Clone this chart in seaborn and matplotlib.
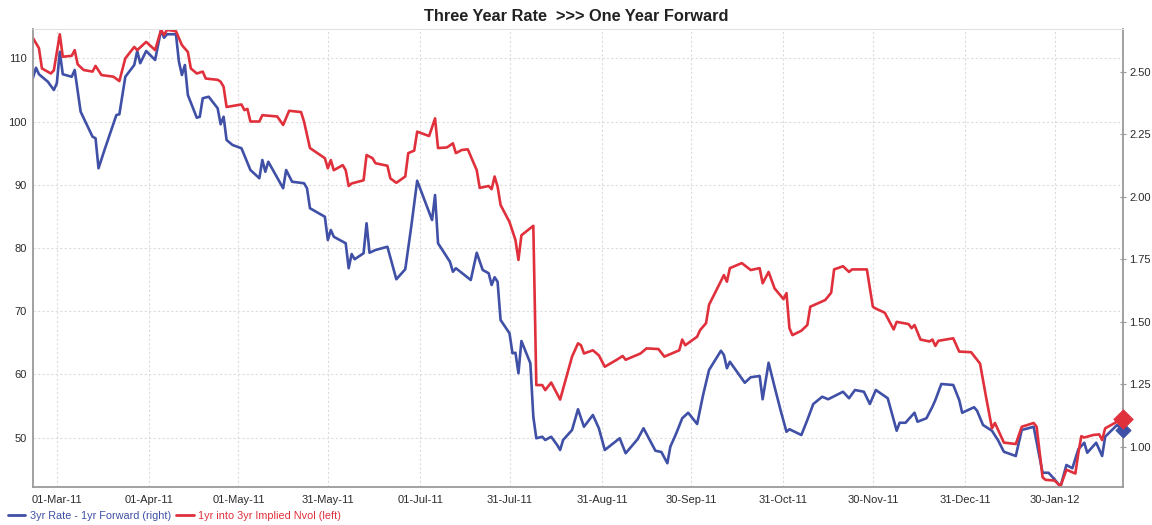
import matplotlib
matplotlib.use("Agg")
import matplotlib.pyplot as plt
import matplotlib.dates as mdates
from matplotlib.lines import Line2D
from matplotlib.ticker import FormatStrFormatter
import pandas as pd
import seaborn as sns

# ---------------- data ----------------
title = "Three Year Rate  >>> One Year Forward"
red_label = "1yr into 3yr Implied Nvol (left)"
blue_label = "3yr Rate - 1yr Forward (right)"

red_dates = [
    "2011-02-21", "2011-02-23", "2011-02-24", "2011-02-27", "2011-02-28", "2011-03-02", "2011-03-03",
    "2011-03-06", "2011-03-07", "2011-03-08", "2011-03-10", "2011-03-13", "2011-03-14", "2011-03-16",
    "2011-03-20", "2011-03-22", "2011-03-24", "2011-03-27", "2011-03-28", "2011-03-31", "2011-04-03",
    "2011-04-05", "2011-04-06", "2011-04-07", "2011-04-10", "2011-04-12", "2011-04-14", "2011-04-15",
    "2011-04-17", "2011-04-19", "2011-04-20", "2011-04-24", "2011-04-25", "2011-04-26", "2011-04-27",
    "2011-05-02", "2011-05-03", "2011-05-04", "2011-05-05", "2011-05-08", "2011-05-09", "2011-05-14",
    "2011-05-16", "2011-05-18", "2011-05-22", "2011-05-23", "2011-05-25", "2011-05-30", "2011-05-31",
    "2011-06-01", "2011-06-02", "2011-06-05", "2011-06-06", "2011-06-07", "2011-06-08", "2011-06-12",
    "2011-06-13", "2011-06-15", "2011-06-16", "2011-06-20", "2011-06-21", "2011-06-23", "2011-06-26",
    "2011-06-27", "2011-06-29", "2011-06-30", "2011-07-04", "2011-07-06", "2011-07-07", "2011-07-10",
    "2011-07-12", "2011-07-13", "2011-07-15", "2011-07-17", "2011-07-19", "2011-07-20", "2011-07-21",
    "2011-07-24", "2011-07-25", "2011-07-26", "2011-07-27", "2011-07-28", "2011-07-31", "2011-08-02",
    "2011-08-03", "2011-08-04", "2011-08-08", "2011-08-09", "2011-08-11", "2011-08-12", "2011-08-14",
    "2011-08-17", "2011-08-19", "2011-08-21", "2011-08-23", "2011-08-24", "2011-08-25", "2011-08-28",
    "2011-08-30", "2011-09-01", "2011-09-05", "2011-09-07", "2011-09-08", "2011-09-13", "2011-09-15",
    "2011-09-19", "2011-09-21", "2011-09-26", "2011-09-27", "2011-09-28", "2011-10-02", "2011-10-03",
    "2011-10-05", "2011-10-06", "2011-10-11", "2011-10-12", "2011-10-13", "2011-10-17", "2011-10-20",
    "2011-10-23", "2011-10-24", "2011-10-26", "2011-10-28", "2011-10-31", "2011-11-01", "2011-11-02",
    "2011-11-03", "2011-11-06", "2011-11-08", "2011-11-09", "2011-11-14", "2011-11-16", "2011-11-17",
    "2011-11-20", "2011-11-22", "2011-11-23", "2011-11-28", "2011-11-30", "2011-12-01", "2011-12-04",
    "2011-12-07", "2011-12-08", "2011-12-12", "2011-12-13", "2011-12-14", "2011-12-16", "2011-12-19",
    "2011-12-20", "2011-12-21", "2011-12-22", "2011-12-27", "2011-12-29", "2012-01-02", "2012-01-05",
    "2012-01-07", "2012-01-09", "2012-01-10", "2012-01-13", "2012-01-17", "2012-01-19", "2012-01-23",
    "2012-01-24", "2012-01-26", "2012-01-27", "2012-01-30", "2012-02-01", "2012-02-03", "2012-02-06",
    "2012-02-07", "2012-02-08", "2012-02-09", "2012-02-12", "2012-02-14", "2012-02-15", "2012-02-16",
    "2012-02-20", "2012-02-22",
]
red_values = [
    113.2, 111.6, 108.4, 107.6, 108.1, 113.8, 110.25, 110.4, 111.3, 109.05, 108.15, 107.9, 108.8, 107.35,
    107.1, 106.4, 110.0, 111.8, 111.3, 112.6, 111.3, 114.5, 113.7, 114.5, 114.3, 112.1, 111.0, 108.4,
    107.6, 107.9, 106.8, 106.6, 106.3, 105.5, 102.3, 102.7, 101.8, 102.0, 100.0, 100.0, 101.0, 100.8,
    99.45, 101.7, 101.5, 100.0, 95.8, 94.2, 92.6, 93.9, 92.3, 93.1, 92.3, 89.8, 90.2, 90.7,
    94.7, 94.2, 93.4, 93.0, 91.0, 90.3, 91.3, 95.0, 95.4, 98.4, 97.7, 100.5, 95.8, 95.9,
    96.55, 95.0, 95.5, 95.6, 93.4, 92.3, 89.5, 89.8, 89.3, 91.3, 89.7, 86.8, 84.1, 81.25,
    78.1, 82.0, 83.5, 58.3, 58.3, 57.5, 58.7, 56.0, 59.4, 62.8, 64.9, 64.6, 63.3, 63.8,
    63.0, 61.2, 62.3, 62.9, 62.3, 63.3, 64.1, 64.0, 62.8, 63.8, 65.5, 64.6, 65.95, 67.0,
    68.1, 71.0, 75.7, 74.65, 76.8, 77.6, 76.5, 76.8, 74.4, 76.2, 73.6, 71.9, 72.85, 67.3,
    66.2, 66.9, 67.8, 70.7, 71.75, 72.9, 76.6, 77.1, 76.2, 76.6, 76.6, 70.7, 70.4, 69.75,
    67.1, 68.3, 67.95, 67.3, 67.8, 65.5, 65.2, 65.5, 64.5, 65.3, 65.7, 63.6, 63.5, 61.7,
    56.45, 51.45, 52.3, 49.2, 48.97, 51.7, 52.3, 51.7, 43.7, 43.3, 43.2, 42.3, 44.9, 44.3,
    47.5, 50.2, 50.0, 50.4, 50.5, 49.6, 51.45, 52.5, 52.9,
]

blue_dates = [
    "2011-02-21", "2011-02-22", "2011-02-23", "2011-02-26", "2011-02-28", "2011-03-01", "2011-03-02",
    "2011-03-03", "2011-03-06", "2011-03-07", "2011-03-09", "2011-03-13", "2011-03-14", "2011-03-15",
    "2011-03-17", "2011-03-21", "2011-03-22", "2011-03-24", "2011-03-27", "2011-03-28", "2011-03-29",
    "2011-03-31", "2011-04-03", "2011-04-05", "2011-04-06", "2011-04-07", "2011-04-10", "2011-04-11",
    "2011-04-12", "2011-04-13", "2011-04-14", "2011-04-17", "2011-04-18", "2011-04-19", "2011-04-21",
    "2011-04-24", "2011-04-25", "2011-04-26", "2011-04-27", "2011-04-29", "2011-05-02", "2011-05-05",
    "2011-05-08", "2011-05-09", "2011-05-10", "2011-05-11", "2011-05-16", "2011-05-17", "2011-05-19",
    "2011-05-23", "2011-05-24", "2011-05-25", "2011-05-30", "2011-05-31", "2011-06-01", "2011-06-02",
    "2011-06-06", "2011-06-07", "2011-06-08", "2011-06-09", "2011-06-12", "2011-06-13", "2011-06-14",
    "2011-06-16", "2011-06-20", "2011-06-23", "2011-06-26", "2011-06-28", "2011-06-30", "2011-07-05",
    "2011-07-06", "2011-07-07", "2011-07-11", "2011-07-12", "2011-07-13", "2011-07-18", "2011-07-20",
    "2011-07-22", "2011-07-24", "2011-07-25", "2011-07-26", "2011-07-27", "2011-07-28", "2011-07-31",
    "2011-08-01", "2011-08-02", "2011-08-03", "2011-08-04", "2011-08-07", "2011-08-08", "2011-08-09",
    "2011-08-11", "2011-08-12", "2011-08-14", "2011-08-16", "2011-08-17", "2011-08-18", "2011-08-21",
    "2011-08-23", "2011-08-25", "2011-08-28", "2011-08-30", "2011-09-01", "2011-09-06", "2011-09-08",
    "2011-09-12", "2011-09-14", "2011-09-18", "2011-09-20", "2011-09-22", "2011-09-23", "2011-09-25",
    "2011-09-27", "2011-09-29", "2011-10-02", "2011-10-04", "2011-10-06", "2011-10-10", "2011-10-11",
    "2011-10-12", "2011-10-13", "2011-10-18", "2011-10-20", "2011-10-23", "2011-10-24", "2011-10-26",
    "2011-10-28", "2011-10-30", "2011-11-01", "2011-11-02", "2011-11-06", "2011-11-08", "2011-11-10",
    "2011-11-13", "2011-11-15", "2011-11-20", "2011-11-22", "2011-11-24", "2011-11-27", "2011-11-29",
    "2011-12-01", "2011-12-05", "2011-12-08", "2011-12-09", "2011-12-11", "2011-12-12", "2011-12-14",
    "2011-12-15", "2011-12-18", "2011-12-20", "2011-12-21", "2011-12-23", "2011-12-27", "2011-12-29",
    "2011-12-30", "2012-01-03", "2012-01-04", "2012-01-06", "2012-01-09", "2012-01-11", "2012-01-13",
    "2012-01-17", "2012-01-19", "2012-01-23", "2012-01-26", "2012-01-28", "2012-01-30", "2012-02-01",
    "2012-02-03", "2012-02-05", "2012-02-07", "2012-02-09", "2012-02-10", "2012-02-13", "2012-02-15",
    "2012-02-16", "2012-02-20", "2012-02-22",
]
blue_values = [
    2.476, 2.516, 2.490, 2.46, 2.427, 2.454, 2.58, 2.49, 2.48, 2.507,
    2.34, 2.24, 2.234, 2.114, 2.187, 2.327, 2.33, 2.48, 2.527, 2.583,
    2.534, 2.583, 2.547, 2.667, 2.636, 2.65, 2.65, 2.54, 2.487, 2.527,
    2.407, 2.316, 2.32, 2.394, 2.40, 2.354, 2.29, 2.32, 2.227, 2.207,
    2.194, 2.107, 2.074, 2.147, 2.10, 2.14, 2.034, 2.107, 2.06, 2.054,
    2.034, 1.954, 1.92, 1.827, 1.867, 1.84, 1.814, 1.714, 1.771, 1.75,
    1.774, 1.894, 1.776, 1.787, 1.80, 1.67, 1.71, 1.88, 2.064, 1.907,
    2.007, 1.814, 1.74, 1.70, 1.714, 1.667, 1.776, 1.707, 1.694, 1.647,
    1.678, 1.66, 1.507, 1.454, 1.374, 1.376, 1.294, 1.423, 1.334, 1.12,
    1.034, 1.04, 1.027, 1.04, 1.007, 0.987, 1.027, 1.067, 1.15, 1.08,
    1.127, 1.074, 0.987, 1.034, 0.974, 1.03, 1.074, 0.984, 0.979, 0.934,
    1.0, 1.054, 1.114, 1.136, 1.091, 1.207, 1.307, 1.384, 1.367, 1.314,
    1.34, 1.256, 1.278, 1.283, 1.19, 1.336, 1.24, 1.147, 1.06, 1.07,
    1.047, 1.107, 1.171, 1.20, 1.19, 1.22, 1.194, 1.227, 1.22, 1.171,
    1.227, 1.194, 1.064, 1.096, 1.096, 1.11, 1.136, 1.10, 1.114, 1.16,
    1.187, 1.251, 1.247, 1.187, 1.136, 1.158, 1.144, 1.087, 1.064, 1.027,
    0.98, 0.963, 1.067, 1.08, 0.896, 0.896, 0.87, 0.84, 0.927, 0.914,
    0.99, 1.016, 0.976, 1.016, 0.963, 1.04, 1.087, 1.067,
]

x_tick_dates = ["2011-03-01", "2011-04-01", "2011-05-01", "2011-05-31", "2011-07-01", "2011-07-31",
                "2011-08-31", "2011-09-30", "2011-10-31", "2011-11-30", "2011-12-31", "2012-01-30"]
left_ticks = [50, 60, 70, 80, 90, 100, 110]
right_ticks = [1.00, 1.25, 1.50, 1.75, 2.00, 2.25, 2.50]

# ---------------- style ----------------
RED = "#e0303c"
BLUE = "#3f50a6"
TXT = "#2b2b2b"
SPINE = "#9a9a9a"
GRID = "#dcdcdc"

sns.set_style("white")
plt.rcParams["font.family"] = ["Liberation Sans", "DejaVu Sans"]

fig = plt.figure(figsize=(11.52, 5.25), dpi=100)
pos = [33 / 1152, 38 / 525, 1090 / 1152, 458 / 525]

# bottom layer: grid only
axg = fig.add_axes(pos)
axg.set_zorder(0)
# middle layer: right axis (blue)
ax2 = fig.add_axes(pos)
ax2.set_zorder(1)
ax2.patch.set_visible(False)
# top layer: left axis (red)
ax = fig.add_axes(pos)
ax.set_zorder(2)
ax.patch.set_visible(False)

rd = pd.to_datetime(red_dates)
bd = pd.to_datetime(blue_dates)

sns.lineplot(x=bd, y=blue_values, ax=ax2, color=BLUE, linewidth=1.9,
             estimator=None, sort=False)
sns.lineplot(x=rd, y=red_values, ax=ax, color=RED, linewidth=1.9,
             estimator=None, sort=False)

sns.scatterplot(x=[bd[-1]], y=[blue_values[-1]], ax=ax2, marker="D", s=60,
                color=BLUE, edgecolor=BLUE, clip_on=False, zorder=5)
sns.scatterplot(x=[rd[-1]], y=[red_values[-1]], ax=ax, marker="D", s=95,
                color=RED, edgecolor=RED, clip_on=False, zorder=6)

xmin = pd.Timestamp("2011-02-21")
xmax = pd.Timestamp("2012-02-22")
for a in (axg, ax, ax2):
    a.set_xlim(xmin, xmax)
    a.set_xlabel("")
    a.set_ylabel("")
ax.set_ylim(42.17, 114.64)
axg.set_ylim(42.17, 114.64)
ax2.set_ylim(0.839, 2.671)

# grid layer
axg.set_xticks(pd.to_datetime(x_tick_dates))
axg.set_yticks(left_ticks)
axg.grid(True, color=GRID, linestyle=(0, (2, 2)), linewidth=0.8)
axg.tick_params(which="both", length=0, labelbottom=False, labelleft=False)
for sp in axg.spines.values():
    sp.set_visible(False)
axg.set_facecolor("white")

# left / bottom axis
ax.set_xticks(pd.to_datetime(x_tick_dates))
ax.xaxis.set_major_formatter(mdates.DateFormatter("%d-%b-%y"))
ax.set_yticks(left_ticks)
ax.grid(False)
ax.tick_params(axis="both", labelsize=8, labelcolor=TXT, color=SPINE,
               direction="inout", length=5, width=0.8, pad=2)
ax.tick_params(axis="x", pad=3)

# right axis
ax2.yaxis.tick_right()
ax2.set_yticks(right_ticks)
ax2.yaxis.set_major_formatter(FormatStrFormatter("%.2f"))
ax2.set_xticks([])
ax2.grid(False)
ax2.tick_params(axis="y", labelsize=8, labelcolor=TXT, color=SPINE,
                direction="inout", length=5, width=0.8, pad=2,
                left=False, labelleft=False, right=True, labelright=True)

for name, sp in ax.spines.items():
    sp.set_visible(name in ("left", "bottom", "top"))
    sp.set_color(SPINE)
    sp.set_linewidth(1.3)
ax.spines["top"].set_color("#e2e2e2")
ax.spines["top"].set_linewidth(0.8)
for name, sp in ax2.spines.items():
    sp.set_visible(name == "right")
    sp.set_color(SPINE)
    sp.set_linewidth(1.3)

fig.text(0.5, 1 - 16.5 / 525, title, ha="center", va="center",
         fontsize=11.8, fontweight="bold", color="#222222")

handles = [Line2D([], [], color=BLUE, lw=2), Line2D([], [], color=RED, lw=2)]
leg = fig.legend(handles, [blue_label, red_label], loc="center left",
                 bbox_to_anchor=(8 / 1152, 1 - 516 / 525), ncol=2, frameon=False,
                 fontsize=7.8, borderpad=0, borderaxespad=0, handlelength=1.6,
                 handletextpad=0.4, columnspacing=0.5,
                 labelcolor=[BLUE, RED])

fig.savefig("out.png", dpi=100)
